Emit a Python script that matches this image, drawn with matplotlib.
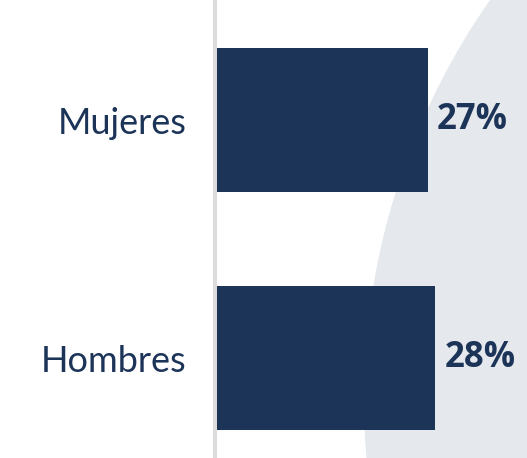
import matplotlib
matplotlib.use('Agg')
import matplotlib.pyplot as plt
from matplotlib.patches import Circle

categorias = ['Mujeres', 'Hombres']
porcentajes = [27, 28]

azul = '#1d3459'
gris_fondo = '#e5e8ec'

W, H = 527, 458
fig = plt.figure(figsize=(W / 100, H / 100), dpi=100)
fig.patch.set_facecolor('white')

# fondo: circulo gris grande a la derecha
fondo = fig.add_axes([0, 0, 1, 1], zorder=0)
fondo.set_xlim(0, W)
fondo.set_ylim(H, 0)
fondo.axis('off')
fondo.add_patch(Circle((1062, 400), 698, color=gris_fondo, lw=0))
fondo.plot([215, 215], [0, H], color='#dcdcdc', lw=3, solid_capstyle='butt')

ax = fig.add_axes([217 / W, 0, (W - 217) / W, 1], zorder=1)
ax.patch.set_alpha(0)
y = list(range(len(categorias)))
ax.barh(y, porcentajes, height=0.605, color=azul)
ax.set_xlim(0, (W - 217) / 7.8)
ax.set_ylim(1 + 100 / 238, -120 / 238)

for yi, v in zip(y, porcentajes):
    ax.text(v + 1.2, yi, f'{v}%', va='center', ha='left', color=azul,
            fontsize=25, fontweight='bold', family='Open Sans')

ax.set_yticks(y)
ax.set_yticklabels(categorias, fontsize=26, color=azul, family='Lato')
ax.tick_params(axis='y', length=0, pad=22)
ax.set_xticks([])
for s in ax.spines.values():
    s.set_visible(False)

fig.savefig('out.png', dpi=100)
